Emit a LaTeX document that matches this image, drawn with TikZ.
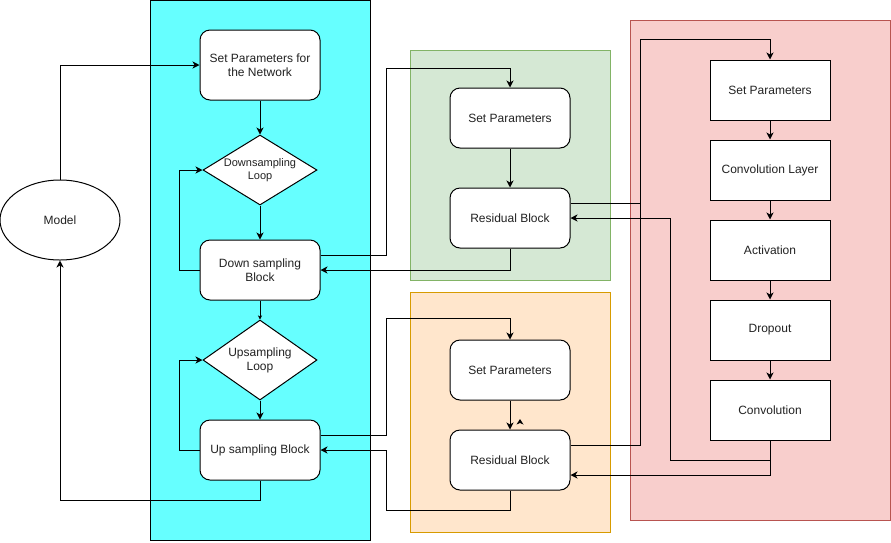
\documentclass[tikz,border=0pt]{standalone}
\usepackage{fontspec}
\setmainfont{Liberation Sans}
\usetikzlibrary{arrows.meta,shapes.geometric,calc}
\definecolor{cyanbg}{HTML}{66FFFF}
\definecolor{greenbg}{HTML}{D5E8D4}
\definecolor{greenln}{HTML}{82B366}
\definecolor{orangebg}{HTML}{FFE6CC}
\definecolor{orangeln}{HTML}{D79B00}
\definecolor{redbg}{HTML}{F8CECC}
\definecolor{redln}{HTML}{B85450}
\definecolor{txt}{HTML}{222222}
\tikzset{
  base/.style={draw=black, line width=1pt, fill=white, text=txt, inner sep=0pt,
    font=\fontsize{12}{14}\selectfont, align=center},
  rbox/.style={base, rounded corners=10pt, minimum width=120pt, minimum height=60pt},
  sbox/.style={base, minimum width=120pt, minimum height=60pt},
  loopdia/.style={base, diamond, aspect=1.55, minimum width=114pt, minimum height=70pt},
  arr/.style={draw=black, line width=1pt, -{Stealth[length=7pt,width=7pt,inset=2pt]}},
  smallarr/.style={draw=black, line width=1pt, -{Stealth[length=4pt,width=4pt,inset=1pt]}},
  wire/.style={draw=black, line width=1pt},
}
\begin{document}
\begin{tikzpicture}[x=1pt,y=-1pt]
\useasboundingbox (0,0) rectangle (891,542);

% group backgrounds
\draw[fill=cyanbg, draw=black, line width=1pt] (150,0.5) rectangle (370,540);
\draw[fill=greenbg, draw=greenln, line width=1pt] (410,50) rectangle (610,280);
\draw[fill=orangebg, draw=orangeln, line width=1pt] (410,292) rectangle (610,532);
\draw[fill=redbg, draw=redln, line width=1pt] (630,20) rectangle (890,520);

% main network flow
\node[base, ellipse, minimum width=120pt, minimum height=80pt] (model) at (60,220) {Model};
\node[rbox, minimum height=70pt] (setnet) at (260,65) {Set Parameters for\\the Network};
\node[loopdia, font=\fontsize{11}{13}\selectfont] (dloop) at (260,170) {Downsampling\\Loop};
\node[rbox] (downblk) at (260,270) {Down sampling\\Block};
\node[loopdia, minimum height=80pt, aspect=1.4] (uloop) at (260,360) {Upsampling\\Loop};
\node[rbox] (upblk) at (260,450) {Up sampling Block};

% green residual group
\node[rbox] (gsp) at (510,118) {Set Parameters};
\node[rbox] (grb) at (510,218) {Residual Block};

% orange residual group
\node[rbox] (osp) at (510,370) {Set Parameters};
\node[rbox] (orb) at (510,460) {Residual Block};

% red residual internals
\node[sbox] (rsp) at (770,90) {Set Parameters};
\node[sbox] (conv1) at (770,170) {Convolution Layer};
\node[sbox] (act) at (770,250) {Activation};
\node[sbox] (drop) at (770,330) {Dropout};
\node[sbox] (conv2) at (770,410) {Convolution};

% connectors in the main flow
\draw[arr] (model.north) |- (setnet.west);
\draw[arr] (setnet.south) -- (dloop.north);
\draw[arr] (dloop.south) -- (downblk.north);
\draw[smallarr] (downblk.south) -- (uloop.north);
\draw[arr] (uloop.south) -- (upblk.north);
\draw[arr] (downblk.west) -- ++(-20,0) |- (dloop.west);
\draw[arr] (upblk.west) -- ++(-20,0) |- (uloop.west);
\draw[arr] (upblk.south) -- ++(0,20) -| (model.south);

% down sampling block and its residual block
\draw[arr] ($(downblk.east)+(0,-15)$) -- ++(66,0) |- ($(gsp.north)+(0,-19)$) -- (gsp.north);
\draw[arr] (gsp.south) -- (grb.north);
\draw[arr] (grb.south) |- (downblk.east);

% up sampling block and its residual block
\draw[arr] ($(upblk.east)+(0,-15)$) -- ++(66,0) |- ($(osp.north)+(0,-21)$) -- (osp.north);
\draw[arr] (osp.south) -- (orb.north);
\draw[arr] (orb.south) -- ++(0,20) -| ($(upblk.east)+(66,0)$) -- (upblk.east);
\fill[black] (516.5,424.5) -- (520,419) -- (523.5,424.5) -- (520,423) -- cycle;

% residual blocks into the residual internals
\draw[arr] ($(grb.east)+(0,-15)$) -- ++(70,0) |- ($(rsp.north)+(0,-20)$) -- (rsp.north);
\draw[wire] ($(orb.east)+(0,-15)$) -- ++(70,0) -- ($(grb.east)+(70,-15)$);
\draw[arr] (rsp.south) -- (conv1.north);
\draw[arr] (conv1.south) -- (act.north);
\draw[arr] (act.south) -- (drop.north);
\draw[arr] (drop.south) -- (conv2.north);
\draw[arr] (conv2.south) -- ++(0,20) -- ++(-100,0) |- (grb.east);
\draw[arr] (conv2.south) |- ($(orb.east)+(0,15)$);
\end{tikzpicture}
\end{document}
